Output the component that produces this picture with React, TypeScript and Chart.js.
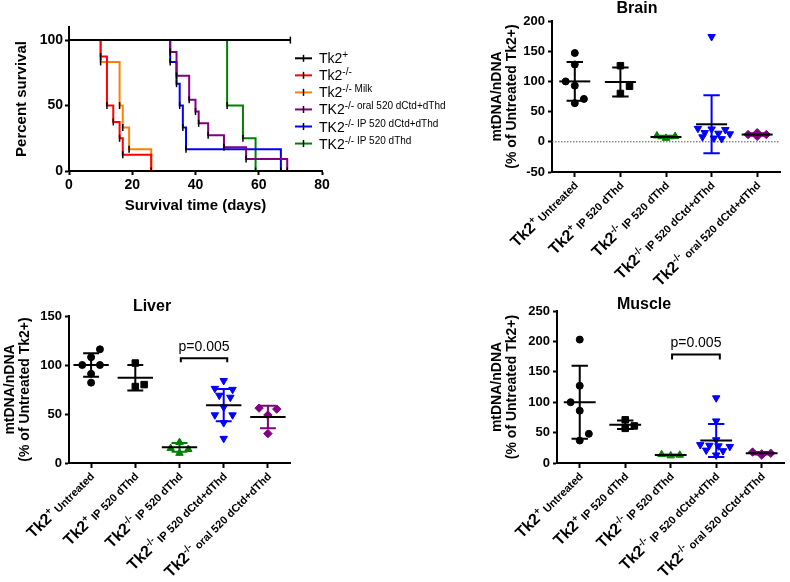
import React, { useEffect, useRef } from 'react';
import { Chart, registerables } from 'chart.js';

Chart.register(...registerables);

const FONT = "'Liberation Sans', Arial, Helvetica, sans-serif";

// ---------------- Survival data (Kaplan-Meier step points) ----------------
const tk2PlusDays = [0, 70];
const tk2PlusPct = [100, 100];
const tk2KoDays = [0, 10, 12, 14, 16, 17, 26];
const tk2KoPct = [100, 87.5, 50, 37.5, 25, 12.5, 0];
const milkDays = [0, 10, 16, 17, 19, 26];
const milkPct = [100, 83.3, 50, 33.3, 16.7, 0];
const oralDays = [0, 32, 34, 38, 40, 41, 44, 49, 56, 69];
const oralPct = [100, 90.9, 72.7, 54.5, 45.5, 36.4, 27.3, 18.2, 9.1, 0];
const ipDays = [0, 32, 34, 35, 36, 37, 67];
const ipPct = [100, 83.3, 66.7, 50, 33.3, 16.7, 0];
const dThdDays = [0, 50, 55, 59];
const dThdPct = [100, 50, 25, 0];

const survivalXTicks = [0, 20, 40, 60, 80];
const survivalYTicks = [0, 50, 100];

const legendBase = ['Tk2', 'Tk2', 'Tk2', 'TK2', 'TK2', 'TK2'];
const legendSup = ['+', '-/-', '-/- Milk', '-/- oral 520 dCtd+dThd', '-/- IP 520 dCtd+dThd', '-/- IP 520 dThd'];
const survivalColors = ['#000000', '#ff0000', '#ff8000', '#800080', '#0000ff', '#008000'];

// ---------------- Scatter groups ----------------
const groupBase = 'Tk2';
const groupSup = ['+', '+', '-/-', '-/-', '-/-'];
const groupRest = ['Untreated', 'IP 520 dThd', 'IP 520 dThd', 'IP 520 dCtd+dThd', 'oral 520 dCtd+dThd'];
const groupColors = ['#000000', '#000000', '#008000', '#0000ff', '#800080'];
const groupShapes = ['circle', 'rect', 'triangle', 'triangle', 'rectRot'];
const groupRotation = [0, 0, 0, 180, 0];
const groupRadius = [3.5, 4.6, 4.3, 4.3, 4.2];

// Brain
const brainUntreated = [147, 128, 100, 93, 71, 64];
const brainPlusIP = [126, 92, 80];
const brainKoIPdThd = [10, 6, 9];
const brainKoIPdCtd = [174, 22, 21, 20, 15, 14, 13, 8, 6, 5];
const brainKoOral = [12, 15, 12, 9];
const brainMean = [100, 99, 8, 29, 12];
const brainSD = [32, 24, 2, 48, 2];
const brainTicks = [-50, 0, 50, 100, 150, 200];
const brainJitter = [
  [0, 0, -0.2, 0, 0.2, 0],
  [0, 0.2, 0],
  [-0.2, 0, 0.2],
  [0, -0.3, 0, 0.3, -0.15, 0.15, 0.4, -0.2, 0.05, 0.22],
  [-0.2, 0, 0.2, 0],
];

// Liver
const liverUntreated = [116, 108, 100, 100, 91, 82];
const liverPlusIP = [102, 80, 78];
const liverKoIPdThd = [21, 15, 14, 10];
const liverKoIPdCtd = [84, 76, 75, 69, 67, 57, 49, 49, 41, 25];
const liverKoOral = [56, 55, 49, 30];
const liverMean = [100, 87, 16, 59, 47];
const liverSD = [12, 13, 4.5, 16.5, 11.5];
const liverTicks = [0, 50, 100, 150];
const liverJitter = [
  [0.2, 0, -0.2, 0.2, 0, 0],
  [0, 0.2, 0],
  [0, -0.2, 0.2, 0],
  [0, -0.2, 0.2, -0.1, 0.15, 0, -0.2, 0.2, 0, 0],
  [-0.2, 0.2, 0, 0],
];

// Muscle
const muscleUntreated = [203, 127, 100, 86, 48, 37];
const musclePlusIP = [71, 61, 57];
const muscleKoIPdThd = [14, 12, 13];
const muscleKoIPdCtd = [107, 69, 38, 30, 29, 28, 27, 21, 20, 13];
const muscleKoOral = [18, 15, 16, 13];
const muscleMean = [100, 63, 13, 37, 16];
const muscleSD = [60, 7, 1, 27, 2];
const muscleTicks = [0, 50, 100, 150, 200, 250];
const muscleJitter = [
  [0, 0, -0.2, 0, 0.2, 0],
  [0, 0.2, 0],
  [-0.2, 0, 0.2],
  [0, 0, 0, -0.35, -0.15, 0.05, 0.3, -0.22, 0.15, 0],
  [-0.2, 0, 0.2, 0],
];

const pText = 'p=0.005';

// ---------------- helpers ----------------
type Seg = { text: string; size: number; bold: boolean; rise: number };

function drawSegs(ctx: CanvasRenderingContext2D, segs: Seg[], x: number, y: number, align: 'left' | 'right') {
  const widths = segs.map((s) => {
    ctx.font = `${s.bold ? 'bold ' : ''}${s.size}px ${FONT}`;
    return ctx.measureText(s.text).width;
  });
  const total = widths.reduce((a, b) => a + b, 0);
  let cx = align === 'right' ? x - total : x;
  ctx.textAlign = 'left';
  ctx.textBaseline = 'alphabetic';
  segs.forEach((s, i) => {
    ctx.font = `${s.bold ? 'bold ' : ''}${s.size}px ${FONT}`;
    ctx.fillText(s.text, cx, y - s.rise);
    cx += widths[i];
  });
}

const tickFont = (size: number) => ({ family: FONT, size, weight: 'bold' as const });

// ---------------- Survival chart ----------------
const survivalBox = { left: 0, top: 0, width: 470, height: 220 };

function survivalConfig(): any {
  const sets = [
    { d: tk2PlusDays, p: tk2PlusPct },
    { d: tk2KoDays, p: tk2KoPct },
    { d: milkDays, p: milkPct },
    { d: oralDays, p: oralPct },
    { d: ipDays, p: ipPct },
    { d: dThdDays, p: dThdPct },
  ];
  const legendPlugin = {
    id: 'kmLegend',
    afterDraw(chart: any) {
      const ctx: CanvasRenderingContext2D = chart.ctx;
      ctx.save();
      legendBase.forEach((b, i) => {
        const ry = 58.3 + i * 17.05;
        ctx.strokeStyle = survivalColors[i];
        ctx.lineWidth = 2;
        ctx.beginPath();
        ctx.moveTo(295, ry);
        ctx.lineTo(312, ry);
        ctx.stroke();
        ctx.strokeStyle = '#000';
        ctx.lineWidth = 1.5;
        ctx.beginPath();
        ctx.moveTo(303.5, ry - 3.5);
        ctx.lineTo(303.5, ry + 3.5);
        ctx.stroke();
        ctx.fillStyle = '#000';
        drawSegs(ctx, [
          { text: b, size: 14, bold: false, rise: 0 },
          { text: legendSup[i], size: 10, bold: false, rise: 5 },
        ], 319, ry + 5, 'left');
      });
      ctx.restore();
    },
  };
  return {
    type: 'line',
    data: {
      datasets: sets.map((s, i) => ({
        data: s.d.map((d, k) => ({ x: d, y: s.p[k] })),
        borderColor: survivalColors[i],
        backgroundColor: survivalColors[i],
        borderWidth: 2,
        stepped: 'before',
        fill: false,
        pointStyle: 'line',
        pointRotation: 90,
        pointRadius: (c: any) => (c.dataIndex === 0 ? 0 : 3.5),
        pointBorderColor: '#000',
        pointBorderWidth: 1.5,
      })),
    },
    options: {
      animation: false,
      responsive: false,
      devicePixelRatio: 1,
      layout: { padding: { left: 0, top: 27, right: 148, bottom: 0 } },
      plugins: { legend: { display: false }, tooltip: { enabled: false }, title: { display: false } },
      scales: {
        x: {
          type: 'linear', min: 0, max: 80,
          afterBuildTicks: (s: any) => { s.ticks = survivalXTicks.map((v) => ({ value: v })); },
          afterFit: (s: any) => { s.height = 49; s.paddingLeft = 0; s.paddingRight = 0; s.paddingTop = 0; s.paddingBottom = 0; },
          ticks: { font: tickFont(14), color: '#000', padding: 2, maxRotation: 0 },
          grid: { display: true, drawOnChartArea: false, drawTicks: true, tickLength: 4, tickColor: '#000', tickWidth: 2 },
          border: { display: true, color: '#000', width: 2 },
          title: { display: true, text: 'Survival time (days)', color: '#000', font: { family: FONT, size: 15, weight: 'bold' }, padding: { top: 0, bottom: 5 } },
        },
        y: {
          type: 'linear', min: 0, max: 110,
          afterBuildTicks: (s: any) => { s.ticks = survivalYTicks.map((v) => ({ value: v })); },
          afterFit: (s: any) => { s.width = 69; s.paddingLeft = 0; s.paddingRight = 0; s.paddingTop = 0; s.paddingBottom = 0; },
          ticks: { font: tickFont(14), color: '#000', padding: 2 },
          grid: { display: true, drawOnChartArea: false, drawTicks: true, tickLength: 4, tickColor: '#000', tickWidth: 2 },
          border: { display: true, color: '#000', width: 2 },
          title: { display: true, text: 'Percent survival', color: '#000', font: { family: FONT, size: 15, weight: 'bold' }, padding: { top: 13, bottom: 0 } },
        },
      },
    },
    plugins: [legendPlugin],
  };
}

// ---------------- Scatter panels ----------------
type Panel = {
  left: number; top: number; width: number; height: number;
  yAxisWidth: number; xAxisHeight: number; padTop: number; padRight: number; yTitlePad: number;
  title: string; titleX: number; titleY: number;
  yMin: number; yMax: number; yTicks: number[];
  groups: number[][]; jitters: number[][]; means: number[]; sds: number[];
  meanHalf: number; capHalf: number;
  zeroLine?: boolean;
  bracket?: { from: number; to: number; top: number; drop: number };
};

const brainPanel: Panel = {
  left: 460, top: 0, width: 330, height: 290,
  yAxisWidth: 92, xAxisHeight: 118, padTop: 21, padRight: 10, yTitlePad: 29,
  title: 'Brain', titleX: 177, titleY: 9,
  yMin: -50, yMax: 200, yTicks: brainTicks,
  groups: [brainUntreated, brainPlusIP, brainKoIPdThd, brainKoIPdCtd, brainKoOral],
  jitters: brainJitter, means: brainMean, sds: brainSD,
  meanHalf: 0.34, capHalf: 0.18, zeroLine: true,
};

const liverPanel: Panel = {
  left: 0, top: 290, width: 300, height: 292,
  yAxisWidth: 69, xAxisHeight: 119, padTop: 26, padRight: 10, yTitlePad: 2,
  title: 'Liver', titleX: 152, titleY: 16.5,
  yMin: 0, yMax: 150, yTicks: liverTicks,
  groups: [liverUntreated, liverPlusIP, liverKoIPdThd, liverKoIPdCtd, liverKoOral],
  jitters: liverJitter, means: liverMean, sds: liverSD,
  meanHalf: 0.4, capHalf: 0.18,
  bracket: { from: 2.03, to: 3.08, top: 107, drop: 4 },
};

const musclePanel: Panel = {
  left: 460, top: 290, width: 330, height: 292,
  yAxisWidth: 97, xAxisHeight: 119, padTop: 21, padRight: 4, yTitlePad: 29,
  title: 'Muscle', titleX: 184, titleY: 14.5,
  yMin: 0, yMax: 250, yTicks: muscleTicks,
  groups: [muscleUntreated, musclePlusIP, muscleKoIPdThd, muscleKoIPdCtd, muscleKoOral],
  jitters: muscleJitter, means: muscleMean, sds: muscleSD,
  meanHalf: 0.35, capHalf: 0.18,
  bracket: { from: 2.03, to: 3.08, top: 178.6, drop: 5 },
};

function scatterConfig(p: Panel): any {
  const overlay = {
    id: 'overlay',
    beforeDatasetsDraw(chart: any) {
      if (!p.zeroLine) return;
      const { ctx, chartArea, scales } = chart;
      const y0 = scales.y.getPixelForValue(0);
      ctx.save();
      ctx.strokeStyle = '#555';
      ctx.lineWidth = 1;
      ctx.setLineDash([1.5, 1.5]);
      ctx.beginPath();
      ctx.moveTo(chartArea.left, y0);
      ctx.lineTo(chartArea.right, y0);
      ctx.stroke();
      ctx.restore();
    },
    afterDatasetsDraw(chart: any) {
      const { ctx, scales } = chart;
      const xs = scales.x;
      const ys = scales.y;
      ctx.save();
      ctx.lineWidth = 2;
      p.means.forEach((m, i) => {
        const sd = p.sds[i];
        const cx = xs.getPixelForValue(i);
        const yt = ys.getPixelForValue(m + sd);
        const yb = ys.getPixelForValue(m - sd);
        const cl = xs.getPixelForValue(i - p.capHalf);
        const cr = xs.getPixelForValue(i + p.capHalf);
        ctx.strokeStyle = groupColors[i];
        ctx.beginPath();
        ctx.moveTo(cx, yt); ctx.lineTo(cx, yb);
        ctx.moveTo(cl, yt); ctx.lineTo(cr, yt);
        ctx.moveTo(cl, yb); ctx.lineTo(cr, yb);
        ctx.stroke();
        ctx.strokeStyle = '#000';
        const ym = ys.getPixelForValue(m);
        ctx.beginPath();
        ctx.moveTo(xs.getPixelForValue(i - p.meanHalf), ym);
        ctx.lineTo(xs.getPixelForValue(i + p.meanHalf), ym);
        ctx.stroke();
      });
      ctx.restore();
    },
    afterDraw(chart: any) {
      const { ctx, chartArea, scales } = chart;
      const xs = scales.x;
      const ys = scales.y;
      ctx.save();
      ctx.fillStyle = '#000';
      // title
      ctx.font = `bold 16px ${FONT}`;
      ctx.textAlign = 'center';
      ctx.textBaseline = 'middle';
      ctx.fillText(p.title, p.titleX, p.titleY);
      // rotated category labels
      const axisY = chartArea.bottom;
      groupRest.forEach((rest, i) => {
        const px = xs.getPixelForValue(i);
        ctx.save();
        ctx.translate(px + 4, axisY + 14);
        ctx.rotate(-Math.PI / 4);
        drawSegs(ctx, [
          { text: groupBase, size: 16, bold: true, rise: 0 },
          { text: groupSup[i], size: 10, bold: true, rise: 6 },
          { text: ' ' + rest, size: 11, bold: true, rise: 0 },
        ], 0, 0, 'right');
        ctx.restore();
      });
      // significance bracket
      if (p.bracket) {
        const b = p.bracket;
        const x1 = xs.getPixelForValue(b.from);
        const x2 = xs.getPixelForValue(b.to);
        const yt = ys.getPixelForValue(b.top);
        ctx.strokeStyle = '#000';
        ctx.lineWidth = 2;
        ctx.beginPath();
        ctx.moveTo(x1, yt + b.drop);
        ctx.lineTo(x1, yt);
        ctx.lineTo(x2, yt);
        ctx.lineTo(x2, yt + b.drop);
        ctx.stroke();
        ctx.font = `14px ${FONT}`;
        ctx.textAlign = 'center';
        ctx.textBaseline = 'middle';
        ctx.fillText(pText, (x1 + x2) / 2, yt - 11);
      }
      ctx.restore();
    },
  };

  return {
    type: 'scatter',
    data: {
      datasets: p.groups.map((vals, g) => ({
        data: vals.map((v, k) => ({ x: g + p.jitters[g][k], y: v })),
        pointStyle: groupShapes[g],
        pointRotation: groupRotation[g],
        pointRadius: groupRadius[g],
        pointBackgroundColor: groupColors[g],
        pointBorderColor: groupColors[g],
        pointBorderWidth: 1,
        showLine: false,
      })),
    },
    options: {
      animation: false,
      responsive: false,
      devicePixelRatio: 1,
      layout: { padding: { left: 0, top: p.padTop, right: p.padRight, bottom: 0 } },
      plugins: { legend: { display: false }, tooltip: { enabled: false }, title: { display: false } },
      scales: {
        x: {
          type: 'linear', min: -0.5, max: 4.5,
          afterBuildTicks: (s: any) => { s.ticks = groupRest.map((_, i) => ({ value: i })); },
          afterFit: (s: any) => { s.height = p.xAxisHeight; s.paddingLeft = 0; s.paddingRight = 0; s.paddingTop = 0; s.paddingBottom = 0; },
          ticks: { display: false },
          grid: { display: true, drawOnChartArea: false, drawTicks: true, tickLength: 5, tickColor: '#000', tickWidth: 2 },
          border: { display: true, color: '#000', width: 2 },
        },
        y: {
          type: 'linear', min: p.yMin, max: p.yMax,
          afterBuildTicks: (s: any) => { s.ticks = p.yTicks.map((v) => ({ value: v })); },
          afterFit: (s: any) => { s.width = p.yAxisWidth; s.paddingLeft = 0; s.paddingRight = 0; s.paddingTop = 0; s.paddingBottom = 0; },
          ticks: { font: tickFont(13), color: '#000', padding: 3 },
          grid: { display: true, drawOnChartArea: false, drawTicks: true, tickLength: 4, tickColor: '#000', tickWidth: 2 },
          border: { display: true, color: '#000', width: 2 },
          title: {
            display: true,
            text: ['mtDNA/nDNA', '(% of Untreated Tk2+)'],
            color: '#000',
            font: { family: FONT, size: 14, weight: 'bold', lineHeight: 1.1 },
            padding: { top: p.yTitlePad, bottom: 0 },
          },
        },
      },
    },
    plugins: [overlay],
  };
}

// ---------------- components ----------------
type Box = { left: number; top: number; width: number; height: number };

function ChartCanvas({ box, makeConfig }: { box: Box; makeConfig: () => any }) {
  const ref = useRef<HTMLCanvasElement>(null);
  useEffect(() => {
    if (!ref.current) return;
    const chart = new Chart(ref.current, makeConfig());
    return () => chart.destroy();
  }, []);
  return (
    <canvas
      ref={ref}
      width={box.width}
      height={box.height}
      style={{ position: 'absolute', left: box.left, top: box.top, width: box.width, height: box.height }}
    />
  );
}

export default function App() {
  return (
    <div style={{ position: 'absolute', left: 0, top: 0, width: 790, height: 582, background: '#fff', overflow: 'hidden' }}>
      <ChartCanvas box={survivalBox} makeConfig={survivalConfig} />
      <ChartCanvas box={brainPanel} makeConfig={() => scatterConfig(brainPanel)} />
      <ChartCanvas box={liverPanel} makeConfig={() => scatterConfig(liverPanel)} />
      <ChartCanvas box={musclePanel} makeConfig={() => scatterConfig(musclePanel)} />
    </div>
  );
}
